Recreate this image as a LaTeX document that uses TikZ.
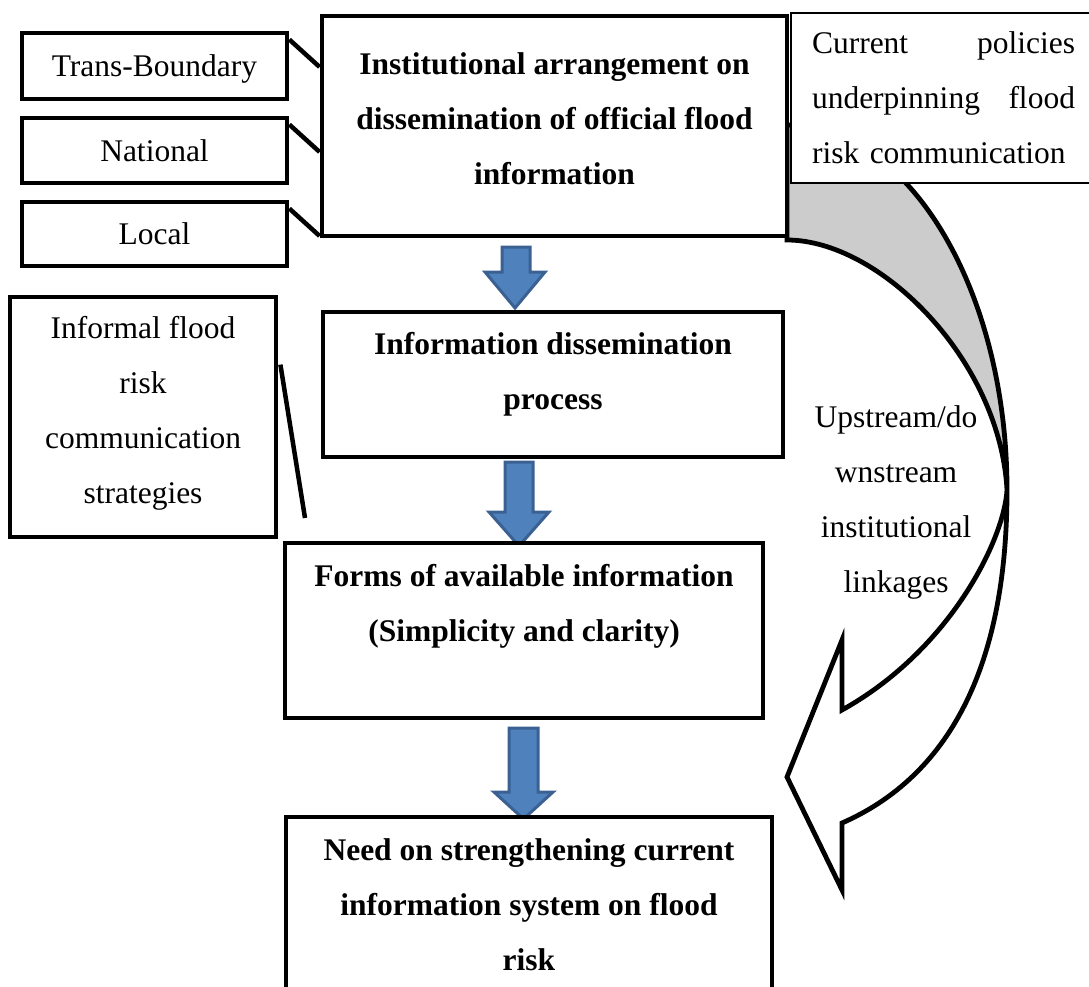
\documentclass[tikz,border=0pt]{standalone}
\usepackage{fontspec}
\setmainfont{Liberation Serif}
\definecolor{arrowfill}{HTML}{4F81BD}
\definecolor{arrowedge}{HTML}{3A6192}
\definecolor{backband}{HTML}{CCCCCC}
\begin{document}
\begin{tikzpicture}[x=1pt,y=-1pt,
  frame/.style={draw=black,line width=4.8pt,fill=white,inner sep=0pt,rectangle},
  thinframe/.style={draw=black,line width=1.5pt,fill=white,inner sep=0pt,rectangle},
  bigtext/.style={font=\fontsize{31.5}{55}\selectfont\bfseries,align=center,inner sep=0pt},
  smalltext/.style={font=\fontsize{31.5}{55}\selectfont,align=center},
  link/.style={draw=black,line width=4.5pt},
  blockarrow/.style={fill=arrowfill,draw=arrowedge,line width=3pt,line join=miter},
  bandline/.style={draw=black,line width=4.8pt,line join=miter}]
\useasboundingbox (0,0) rectangle (1089,987);
\fill[white] (0,0) rectangle (1089,987);

% curved feedback arrow: shaded back band, then the white front band with its head
\filldraw[bandline, fill=backband] (787,125) .. controls (910,125) and (1007,292) .. (1007,490)
  .. controls (1000,360) and (880,240) .. (787,240) -- cycle;
\filldraw[bandline, fill=white] (1007,490) .. controls (1007,680) and (940,780) .. (842,823)
  -- (842,890) -- (787,777) -- (842,640) -- (842,710)
  .. controls (950,650) and (1004,540) .. (1007,490) -- cycle;

% block arrows between the main stages
\filldraw[blockarrow] (502,247) -- (530,247) -- (530,272) -- (545,272) -- (515,308) -- (485,272) -- (502,272) -- cycle;
\filldraw[blockarrow] (505,462) -- (533,462) -- (533,512) -- (549,512) -- (519,546) -- (489,512) -- (505,512) -- cycle;
\filldraw[blockarrow] (509,728) -- (538,728) -- (538,792) -- (553,792) -- (523.5,819) -- (494,792) -- (509,792) -- cycle;

% main stages
\node[frame, minimum width=465pt, minimum height=220pt] (inst) at (554.5,126) {};
\node[bigtext] (instText) at (554.5,118.5) {Institutional arrangement on\\dissemination of official flood\\information};

\node[frame, minimum width=460pt, minimum height=145pt] (process) at (553,384.5) {};
\node[bigtext] (processText) at (553,374.5) {Information dissemination\\process};

\node[frame, minimum width=478pt, minimum height=175pt] (forms) at (524,630.5) {};
\node[bigtext] (formsText) at (524,606.5) {Forms of available information\\(Simplicity and clarity)};

\node[frame, minimum width=486pt, minimum height=200pt] (need) at (529,917) {};
\node[bigtext] (needText) at (529,905) {Need on strengthening current\\information system on flood\\risk};

% policy box
\node[thinframe, minimum width=304pt, minimum height=170pt] (policy) at (943,98) {};
\node[smalltext, align=left, text width=263pt, inner sep=0pt] (policyText) at (943.5,98)
  {Current\hfill policies\\underpinning\hfill flood\\risk communication};

% label of the curved arrow
\node[smalltext, inner sep=0pt] (linkText) at (896,502) {Upstream/do\\wnstream\\institutional\\linkages};

% levels feeding the institutional arrangement
\node[frame, smalltext, text depth=0pt, minimum width=265pt, minimum height=66pt] (trans) at (154.5,66) {Trans-Boundary};
\node[frame, smalltext, minimum width=265pt, minimum height=65pt] (national) at (154.5,150.5) {National};
\node[frame, smalltext, minimum width=265pt, minimum height=64pt] (local) at (154.5,234) {Local};

\draw[link] ([yshift=-9pt]trans.north east) -- (inst.west |- 0,67);
\draw[link] ([yshift=-9pt]national.north east) -- (inst.west |- 0,152);
\draw[link] ([yshift=-9pt]local.north east) -- (inst.west |- 0,236);

% informal strategies
\node[frame, minimum width=266pt, minimum height=240pt] (informal) at (143,417) {};
\node[smalltext, inner sep=0pt] (informalText) at (143,413.5)
  {Informal flood\\risk\\communication\\strategies};
\coordinate (infEnd) at (305,518);
\draw[link] ([yshift=-70pt,xshift=2pt]informal.north east) -- (infEnd);
\end{tikzpicture}
\end{document}
